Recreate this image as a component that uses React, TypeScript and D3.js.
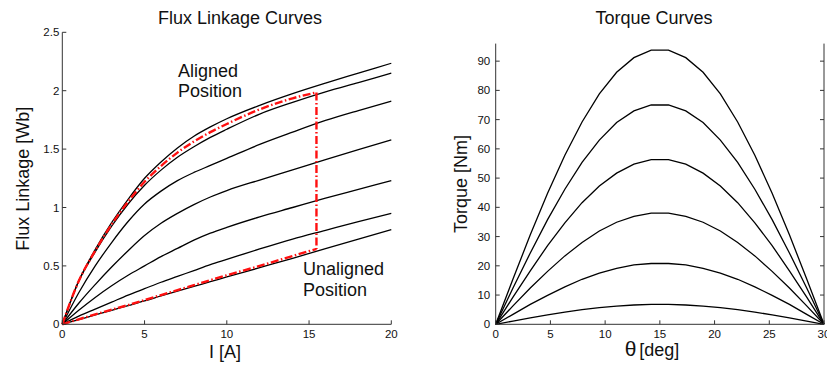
import React from "react";
import * as d3 from "d3";

// ---- Flux linkage data (current in A, flux linkage in Wb) ----
const currentA = [0, 1, 2, 3, 4, 5, 6, 7, 8, 9, 10, 12, 14, 16, 18, 20];
const flux1 = [0, 0.37, 0.64, 0.87, 1.07, 1.25, 1.39, 1.51, 1.61, 1.69, 1.76, 1.875, 1.975, 2.065, 2.15, 2.235];
const flux2 = [0, 0.37, 0.62, 0.84, 1.03, 1.19, 1.32, 1.43, 1.52, 1.6, 1.67, 1.8, 1.9, 1.99, 2.07, 2.15];
const flux3 = [0, 0.27, 0.5, 0.7, 0.88, 1.03, 1.14, 1.23, 1.3, 1.36, 1.42, 1.54, 1.645, 1.745, 1.83, 1.91];
const flux4 = [0, 0.18, 0.34, 0.49, 0.63, 0.76, 0.865, 0.95, 1.025, 1.09, 1.145, 1.235, 1.322, 1.41, 1.495, 1.578];
const flux5 = [0, 0.12, 0.23, 0.33, 0.42, 0.5, 0.58, 0.65, 0.72, 0.78, 0.83, 0.92, 1.0, 1.08, 1.155, 1.23];
const flux6 = [0, 0.07, 0.13, 0.19, 0.25, 0.305, 0.36, 0.41, 0.46, 0.51, 0.555, 0.645, 0.73, 0.805, 0.88, 0.95];
const flux7 = [0, 0.04, 0.08, 0.12, 0.16, 0.2, 0.243, 0.285, 0.325, 0.365, 0.405, 0.485, 0.565, 0.648, 0.73, 0.81];
const fluxSeries = [flux1, flux2, flux3, flux4, flux5, flux6, flux7];

// Energy-conversion loop (aligned / unaligned boundaries)
const alignedI = [0, 1, 2, 3, 4, 5, 6, 7, 8, 9, 10, 12, 14, 15.45];
const alignedFlux = [0, 0.37, 0.63, 0.855, 1.05, 1.22, 1.355, 1.47, 1.565, 1.645, 1.715, 1.84, 1.935, 1.985];
const unalignedI = [0, 2, 4, 6, 8, 10, 12, 14, 15.45];
const unalignedFlux = [0, 0.085, 0.165, 0.25, 0.335, 0.42, 0.5, 0.585, 0.645];

const fluxXTicks = [0, 5, 10, 15, 20];
const fluxYTicks = [0, 0.5, 1, 1.5, 2, 2.5];

// ---- Torque data (rotor angle in deg, torque in Nm) ----
const thetaDeg = [0, 1.58, 3.16, 4.74, 6.32, 7.89, 9.47, 11.05, 12.63, 14.21, 15.79, 17.37, 18.95, 20.53, 22.11, 23.68, 25.26, 26.84, 28.42, 30];
const torque1 = [0, 15.5, 30.6, 44.8, 57.8, 69.2, 78.8, 86.2, 91.2, 93.8, 93.8, 91.2, 86.2, 78.8, 69.2, 57.8, 44.8, 30.6, 15.5, 0];
const torque2 = [0, 12.4, 24.4, 35.8, 46.2, 55.4, 63.0, 69.0, 73.0, 75.0, 75.0, 73.0, 69.0, 63.0, 55.4, 46.2, 35.8, 24.4, 12.4, 0];
const torque3 = [0, 9.3, 18.3, 26.9, 34.7, 41.6, 47.3, 51.7, 54.8, 56.3, 56.3, 54.8, 51.7, 47.3, 41.6, 34.7, 26.9, 18.3, 9.3, 0];
const torque4 = [0, 6.3, 12.4, 18.1, 23.4, 28.0, 31.9, 34.9, 36.9, 38.0, 38.0, 36.9, 34.9, 31.9, 28.0, 23.4, 18.1, 12.4, 6.3, 0];
const torque5 = [0, 3.4, 6.8, 9.9, 12.8, 15.4, 17.5, 19.1, 20.3, 20.8, 20.8, 20.3, 19.1, 17.5, 15.4, 12.8, 9.9, 6.8, 3.4, 0];
const torque6 = [0, 1.1, 2.2, 3.2, 4.2, 5.0, 5.7, 6.2, 6.6, 6.8, 6.8, 6.6, 6.2, 5.7, 5.0, 4.2, 3.2, 2.2, 1.1, 0];
const torqueSeries = [torque1, torque2, torque3, torque4, torque5, torque6];

const torqueXTicks = [0, 5, 10, 15, 20, 25, 30];
const torqueYTicks = [0, 10, 20, 30, 40, 50, 60, 70, 80, 90];

const FONT = "'Liberation Sans', Arial, Helvetica, sans-serif";
const AXIS = "#333";
const TEXT = "#111";
const TICK = 4;
const DASHDOT = "8 2.5 1.5 2.5";

export default function App() {
  // scales
  const xL = d3.scaleLinear().domain([0, 20]).range([62.3, 391.3]);
  const yL = d3.scaleLinear().domain([0, 2.5]).range([324.3, 32.3]);
  const xR = d3.scaleLinear().domain([0, 30]).range([495.7, 824]);
  const yR = d3.scaleLinear().domain([0, 96]).range([324.3, 43.6]);

  const fluxLine = (xs: number[]) =>
    d3
      .line<number>()
      .x((_, i) => xL(xs[i]))
      .y((v) => yL(v))
      .curve(d3.curveMonotoneX);

  const torqueLine = d3
    .line<number>()
    .x((_, i) => xR(thetaDeg[i]))
    .y((v) => yR(v));

  const iEnd = alignedI[alignedI.length - 1];
  const loopTop = alignedFlux[alignedFlux.length - 1];
  const loopBottom = unalignedFlux[unalignedFlux.length - 1];

  return (
    <svg
      width={827}
      height={370}
      style={{ position: "absolute", left: 0, top: 0, background: "#fff" }}
      fontFamily={FONT}
    >
      <rect x={0} y={0} width={827} height={370} fill="#fff" />

      {/* ===== Flux linkage plot ===== */}
      <text x={240} y={24} textAnchor="middle" fontSize={18} fill={TEXT}>
        Flux Linkage Curves
      </text>

      {fluxSeries.map((s, k) => (
        <path key={k} d={fluxLine(currentA)(s) || ""} fill="none" stroke="#000" strokeWidth={1.3} />
      ))}

      <g stroke="#ff1010" strokeWidth={2.4} fill="none" strokeDasharray={DASHDOT}>
        <path d={fluxLine(alignedI)(alignedFlux) || ""} />
        <line x1={xL(iEnd)} x2={xL(iEnd)} y1={yL(loopTop)} y2={yL(loopBottom)} />
        <path d={fluxLine(unalignedI)(unalignedFlux) || ""} />
      </g>

      {/* axes */}
      <g stroke={AXIS} strokeWidth={1}>
        <line x1={xL(0)} x2={xL(0)} y1={yL(2.5)} y2={yL(0)} />
        <line x1={xL(0)} x2={xL(20)} y1={yL(0)} y2={yL(0)} />
        {fluxYTicks.map((t) => (
          <line key={t} x1={xL(0)} x2={xL(0) + TICK} y1={yL(t)} y2={yL(t)} />
        ))}
        {fluxXTicks.map((t) => (
          <line key={t} x1={xL(t)} x2={xL(t)} y1={yL(0)} y2={yL(0) - TICK} />
        ))}
      </g>
      <g fontSize={11.5} fill={TEXT}>
        {fluxYTicks.map((t) => (
          <text key={t} x={xL(0) - 3} y={yL(t) + 4} textAnchor="end">
            {String(t)}
          </text>
        ))}
        {fluxXTicks.map((t) => (
          <text key={t} x={xL(t)} y={337.8} textAnchor="middle">
            {String(t)}
          </text>
        ))}
      </g>

      <text
        transform={`translate(29,${(yL(0) + yL(2.5)) / 2 + 0.5}) rotate(-90)`}
        textAnchor="middle"
        fontSize={18}
        fill={TEXT}
      >
        Flux Linkage [Wb]
      </text>
      <text x={225} y={358} textAnchor="middle" fontSize={18} fill={TEXT}>
        I [A]
      </text>

      <g fontSize={18} fill={TEXT}>
        <text x={178} y={77}>Aligned</text>
        <text x={178} y={97}>Position</text>
        <text x={303} y={275}>Unaligned</text>
        <text x={303} y={295.5}>Position</text>
      </g>

      {/* ===== Torque plot ===== */}
      <text x={654} y={24} textAnchor="middle" fontSize={18} fill={TEXT}>
        Torque Curves
      </text>

      {torqueSeries.map((s, k) => (
        <path key={k} d={torqueLine(s) || ""} fill="none" stroke="#000" strokeWidth={1.3} />
      ))}

      <g stroke={AXIS} strokeWidth={1}>
        <line x1={xR(0)} x2={xR(0)} y1={yR(96)} y2={yR(0)} />
        <line x1={xR(30)} x2={xR(30)} y1={yR(96)} y2={yR(0)} />
        <line x1={xR(0)} x2={xR(30)} y1={yR(0)} y2={yR(0)} />
        {torqueYTicks.map((t) => (
          <g key={t}>
            <line x1={xR(0)} x2={xR(0) + TICK} y1={yR(t)} y2={yR(t)} />
            <line x1={xR(30)} x2={xR(30) - TICK} y1={yR(t)} y2={yR(t)} />
          </g>
        ))}
        {torqueXTicks.map((t) => (
          <line key={t} x1={xR(t)} x2={xR(t)} y1={yR(0)} y2={yR(0) - TICK} />
        ))}
      </g>
      <g fontSize={11.5} fill={TEXT}>
        {torqueYTicks.map((t) => (
          <text key={t} x={xR(0) - 5.5} y={yR(t) + 4} textAnchor="end">
            {String(t)}
          </text>
        ))}
        {torqueXTicks.map((t) => (
          <text key={t} x={xR(t)} y={337.8} textAnchor="middle">
            {String(t)}
          </text>
        ))}
      </g>

      <text
        transform={`translate(467,${(yR(0) + yR(96)) / 2}) rotate(-90)`}
        textAnchor="middle"
        fontSize={18}
        fill={TEXT}
      >
        Torque [Nm]
      </text>
      <text x={652} y={356} textAnchor="middle" fill={TEXT}>
        <tspan fontSize={21}>θ</tspan>
        <tspan fontSize={18} dx={3}>[deg]</tspan>
      </text>
    </svg>
  );
}
